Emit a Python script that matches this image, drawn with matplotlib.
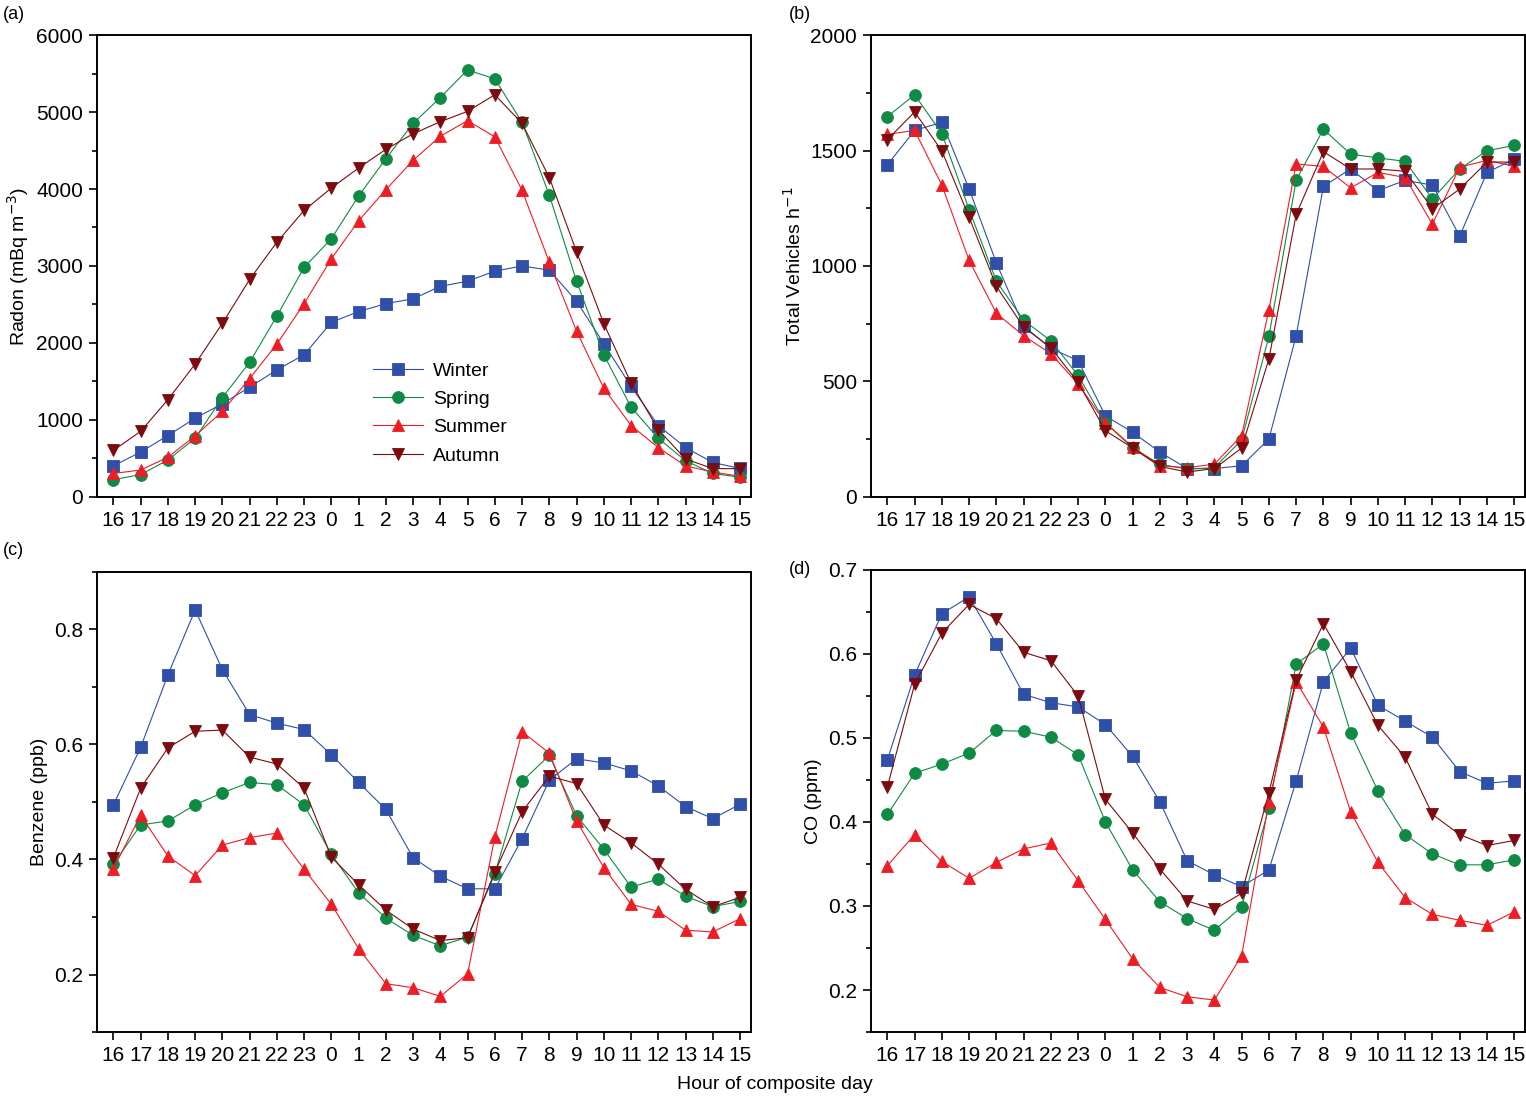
import matplotlib
matplotlib.use("Agg")
import matplotlib.pyplot as plt
from matplotlib.ticker import MultipleLocator
from matplotlib import font_manager

hours = ["16", "17", "18", "19", "20", "21", "22", "23", "0", "1", "2", "3",
         "4", "5", "6", "7", "8", "9", "10", "11", "12", "13", "14", "15"]
seasons = ["Winter", "Spring", "Summer", "Autumn"]

# (a) radon, mBq m-3
radon_winter = [404, 583, 798, 1022, 1211, 1426, 1650, 1847, 2269, 2408, 2511, 2574,
                2735, 2803, 2933, 3000, 2946, 2542, 1991, 1435, 928, 641, 448, 370]
radon_spring = [224, 291, 480, 762, 1291, 1749, 2350, 2982, 3354, 3910, 4394, 4852,
                5188, 5547, 5430, 4865, 3919, 2803, 1847, 1166, 762, 471, 305, 256]
radon_summer = [305, 350, 516, 794, 1112, 1538, 1986, 2511, 3094, 3587, 3991, 4372,
                4686, 4888, 4677, 3982, 3049, 2152, 1412, 928, 641, 404, 323, 269]
radon_autumn = [605, 852, 1264, 1726, 2255, 2825, 3309, 3722, 4013, 4273, 4515, 4717,
                4874, 5009, 5224, 4852, 4148, 3184, 2251, 1480, 874, 493, 368, 368]

# (b) total vehicles per hour
veh_winter = [1438, 1587, 1622, 1333, 1013, 740, 643, 590, 351, 280, 194, 123,
              123, 135, 251, 698, 1345, 1420, 1326, 1371, 1350, 1129, 1405, 1462]
veh_spring = [1647, 1741, 1573, 1244, 934, 765, 676, 526, 321, 212, 142, 120,
              127, 247, 695, 1372, 1592, 1484, 1468, 1453, 1290, 1420, 1499, 1522]
veh_summer = [1570, 1587, 1350, 1024, 795, 698, 620, 489, 321, 217, 135, 127,
              142, 266, 810, 1442, 1431, 1338, 1405, 1383, 1181, 1428, 1457, 1432]
veh_autumn = [1547, 1667, 1498, 1211, 912, 735, 646, 496, 287, 212, 132, 108,
              123, 212, 598, 1223, 1495, 1420, 1420, 1410, 1248, 1333, 1450, 1450]

# (c) benzene, ppb
benz_winter = [0.495, 0.595, 0.721, 0.834, 0.730, 0.652, 0.637, 0.626, 0.582, 0.534, 0.487, 0.403,
               0.371, 0.349, 0.349, 0.436, 0.538, 0.575, 0.568, 0.554, 0.528, 0.492, 0.471, 0.496]
benz_spring = [0.392, 0.460, 0.467, 0.495, 0.516, 0.534, 0.530, 0.495, 0.409, 0.342, 0.298, 0.268,
               0.250, 0.265, 0.375, 0.536, 0.581, 0.476, 0.418, 0.352, 0.366, 0.336, 0.318, 0.327]
benz_summer = [0.384, 0.477, 0.406, 0.372, 0.425, 0.438, 0.446, 0.383, 0.322, 0.245, 0.184, 0.177,
               0.162, 0.201, 0.439, 0.622, 0.585, 0.467, 0.386, 0.322, 0.310, 0.277, 0.274, 0.297]
benz_autumn = [0.403, 0.524, 0.594, 0.623, 0.625, 0.578, 0.566, 0.524, 0.404, 0.356, 0.312, 0.279,
               0.259, 0.264, 0.378, 0.483, 0.545, 0.532, 0.460, 0.429, 0.392, 0.348, 0.318, 0.334]

# (d) CO, ppm
co_winter = [0.474, 0.575, 0.648, 0.668, 0.612, 0.552, 0.542, 0.537, 0.516, 0.478, 0.424, 0.354,
             0.337, 0.323, 0.343, 0.449, 0.567, 0.607, 0.539, 0.520, 0.501, 0.460, 0.446, 0.449]
co_spring = [0.409, 0.458, 0.469, 0.482, 0.509, 0.508, 0.501, 0.480, 0.400, 0.343, 0.305, 0.285,
             0.271, 0.299, 0.417, 0.588, 0.612, 0.506, 0.437, 0.385, 0.362, 0.349, 0.349, 0.355]
co_summer = [0.348, 0.385, 0.353, 0.333, 0.352, 0.368, 0.375, 0.330, 0.284, 0.237, 0.203, 0.192,
             0.188, 0.241, 0.424, 0.567, 0.513, 0.412, 0.352, 0.310, 0.290, 0.283, 0.277, 0.293]
co_autumn = [0.442, 0.564, 0.625, 0.659, 0.642, 0.602, 0.592, 0.550, 0.427, 0.387, 0.344, 0.306,
             0.296, 0.315, 0.435, 0.569, 0.636, 0.579, 0.515, 0.477, 0.409, 0.385, 0.372, 0.378]

colors = ["#2f4fa8", "#0f8a45", "#ee1c24", "#7d0a0e"]
markers = ["s", "o", "^", "v"]

names = {f.name for f in font_manager.fontManager.ttflist}
tick_font = "Liberation Sans Narrow" if "Liberation Sans Narrow" in names else "Liberation Sans"
plt.rcParams["font.family"] = ["Liberation Sans", "DejaVu Sans"]

fig = plt.figure(figsize=(15.26, 10.98), dpi=100)

panels = [
    ("(a)", [0.0636, 0.5474, 0.4285, 0.4207], [radon_winter, radon_spring, radon_summer, radon_autumn],
     (0, 6000), 1000, 500, "Radon (mBq m$^{-3}$)", "{:.0f}"),
    ("(b)", [0.5708, 0.5474, 0.4286, 0.4207], [veh_winter, veh_spring, veh_summer, veh_autumn],
     (0, 2000), 500, 250, "Total Vehicles h$^{-1}$", "{:.0f}"),
    ("(c)", [0.0636, 0.0601, 0.4285, 0.4190], [benz_winter, benz_spring, benz_summer, benz_autumn],
     (0.1, 0.9), 0.2, 0.1, "Benzene (ppb)", "{:.1f}"),
    ("(d)", [0.5708, 0.0601, 0.4286, 0.4208], [co_winter, co_spring, co_summer, co_autumn],
     (0.15, 0.7), 0.1, 0.05, "CO (ppm)", "{:.1f}"),
]

x = list(range(len(hours)))
axes = []
for tag, rect, series, ylim, major, minor, ylabel, fmt in panels:
    ax = fig.add_axes(rect)
    for vals, c, m, lab in zip(series, colors, markers, seasons):
        ax.plot(x, vals, color=c, marker=m, markersize=8.5, linewidth=0.8,
                markeredgecolor=c, markeredgewidth=0.6, label=lab)
    ax.set_xlim(-0.6, 23.4)
    ax.set_ylim(*ylim)
    ax.set_xticks(x)
    ax.set_xticklabels(hours)
    ax.yaxis.set_major_locator(MultipleLocator(major))
    ax.yaxis.set_minor_locator(MultipleLocator(minor))
    ticks = [t for t in ax.get_yticks() if ylim[0] - 1e-9 <= t <= ylim[1] + 1e-9]
    if tag == "(c)":
        ticks = [t for t in ticks if t > 0.15]
    ax.set_yticks(ticks)
    ax.set_yticklabels([fmt.format(t) for t in ticks])
    ax.tick_params(axis="both", which="major", direction="out", length=6, width=1.2,
                   labelsize=15, pad=4)
    ax.tick_params(axis="y", which="minor", direction="out", length=3.5, width=1.2)
    for lbl in ax.get_xticklabels() + ax.get_yticklabels():
        lbl.set_family([tick_font, "DejaVu Sans"])
    for sp in ax.spines.values():
        sp.set_linewidth(1.4)
    ax.set_ylabel(ylabel, fontsize=14, labelpad=4)
    axes.append(ax)

fig.text(0.002, 0.987, "(a)", fontsize=13, va="center", ha="left")
fig.text(0.517, 0.987, "(b)", fontsize=13, va="center", ha="left")
fig.text(0.002, 0.499, "(c)", fontsize=13, va="center", ha="left")
fig.text(0.517, 0.481, "(d)", fontsize=13, va="center", ha="left")

axes[0].legend(loc="upper left", bbox_to_anchor=(0.395, 0.33), frameon=False,
               fontsize=14, handlelength=2.6, handletextpad=0.5, labelspacing=0.55)

fig.text(0.508, 0.012, "Hour of composite day", fontsize=14, ha="center", va="center")

fig.savefig("out.png", dpi=100)
